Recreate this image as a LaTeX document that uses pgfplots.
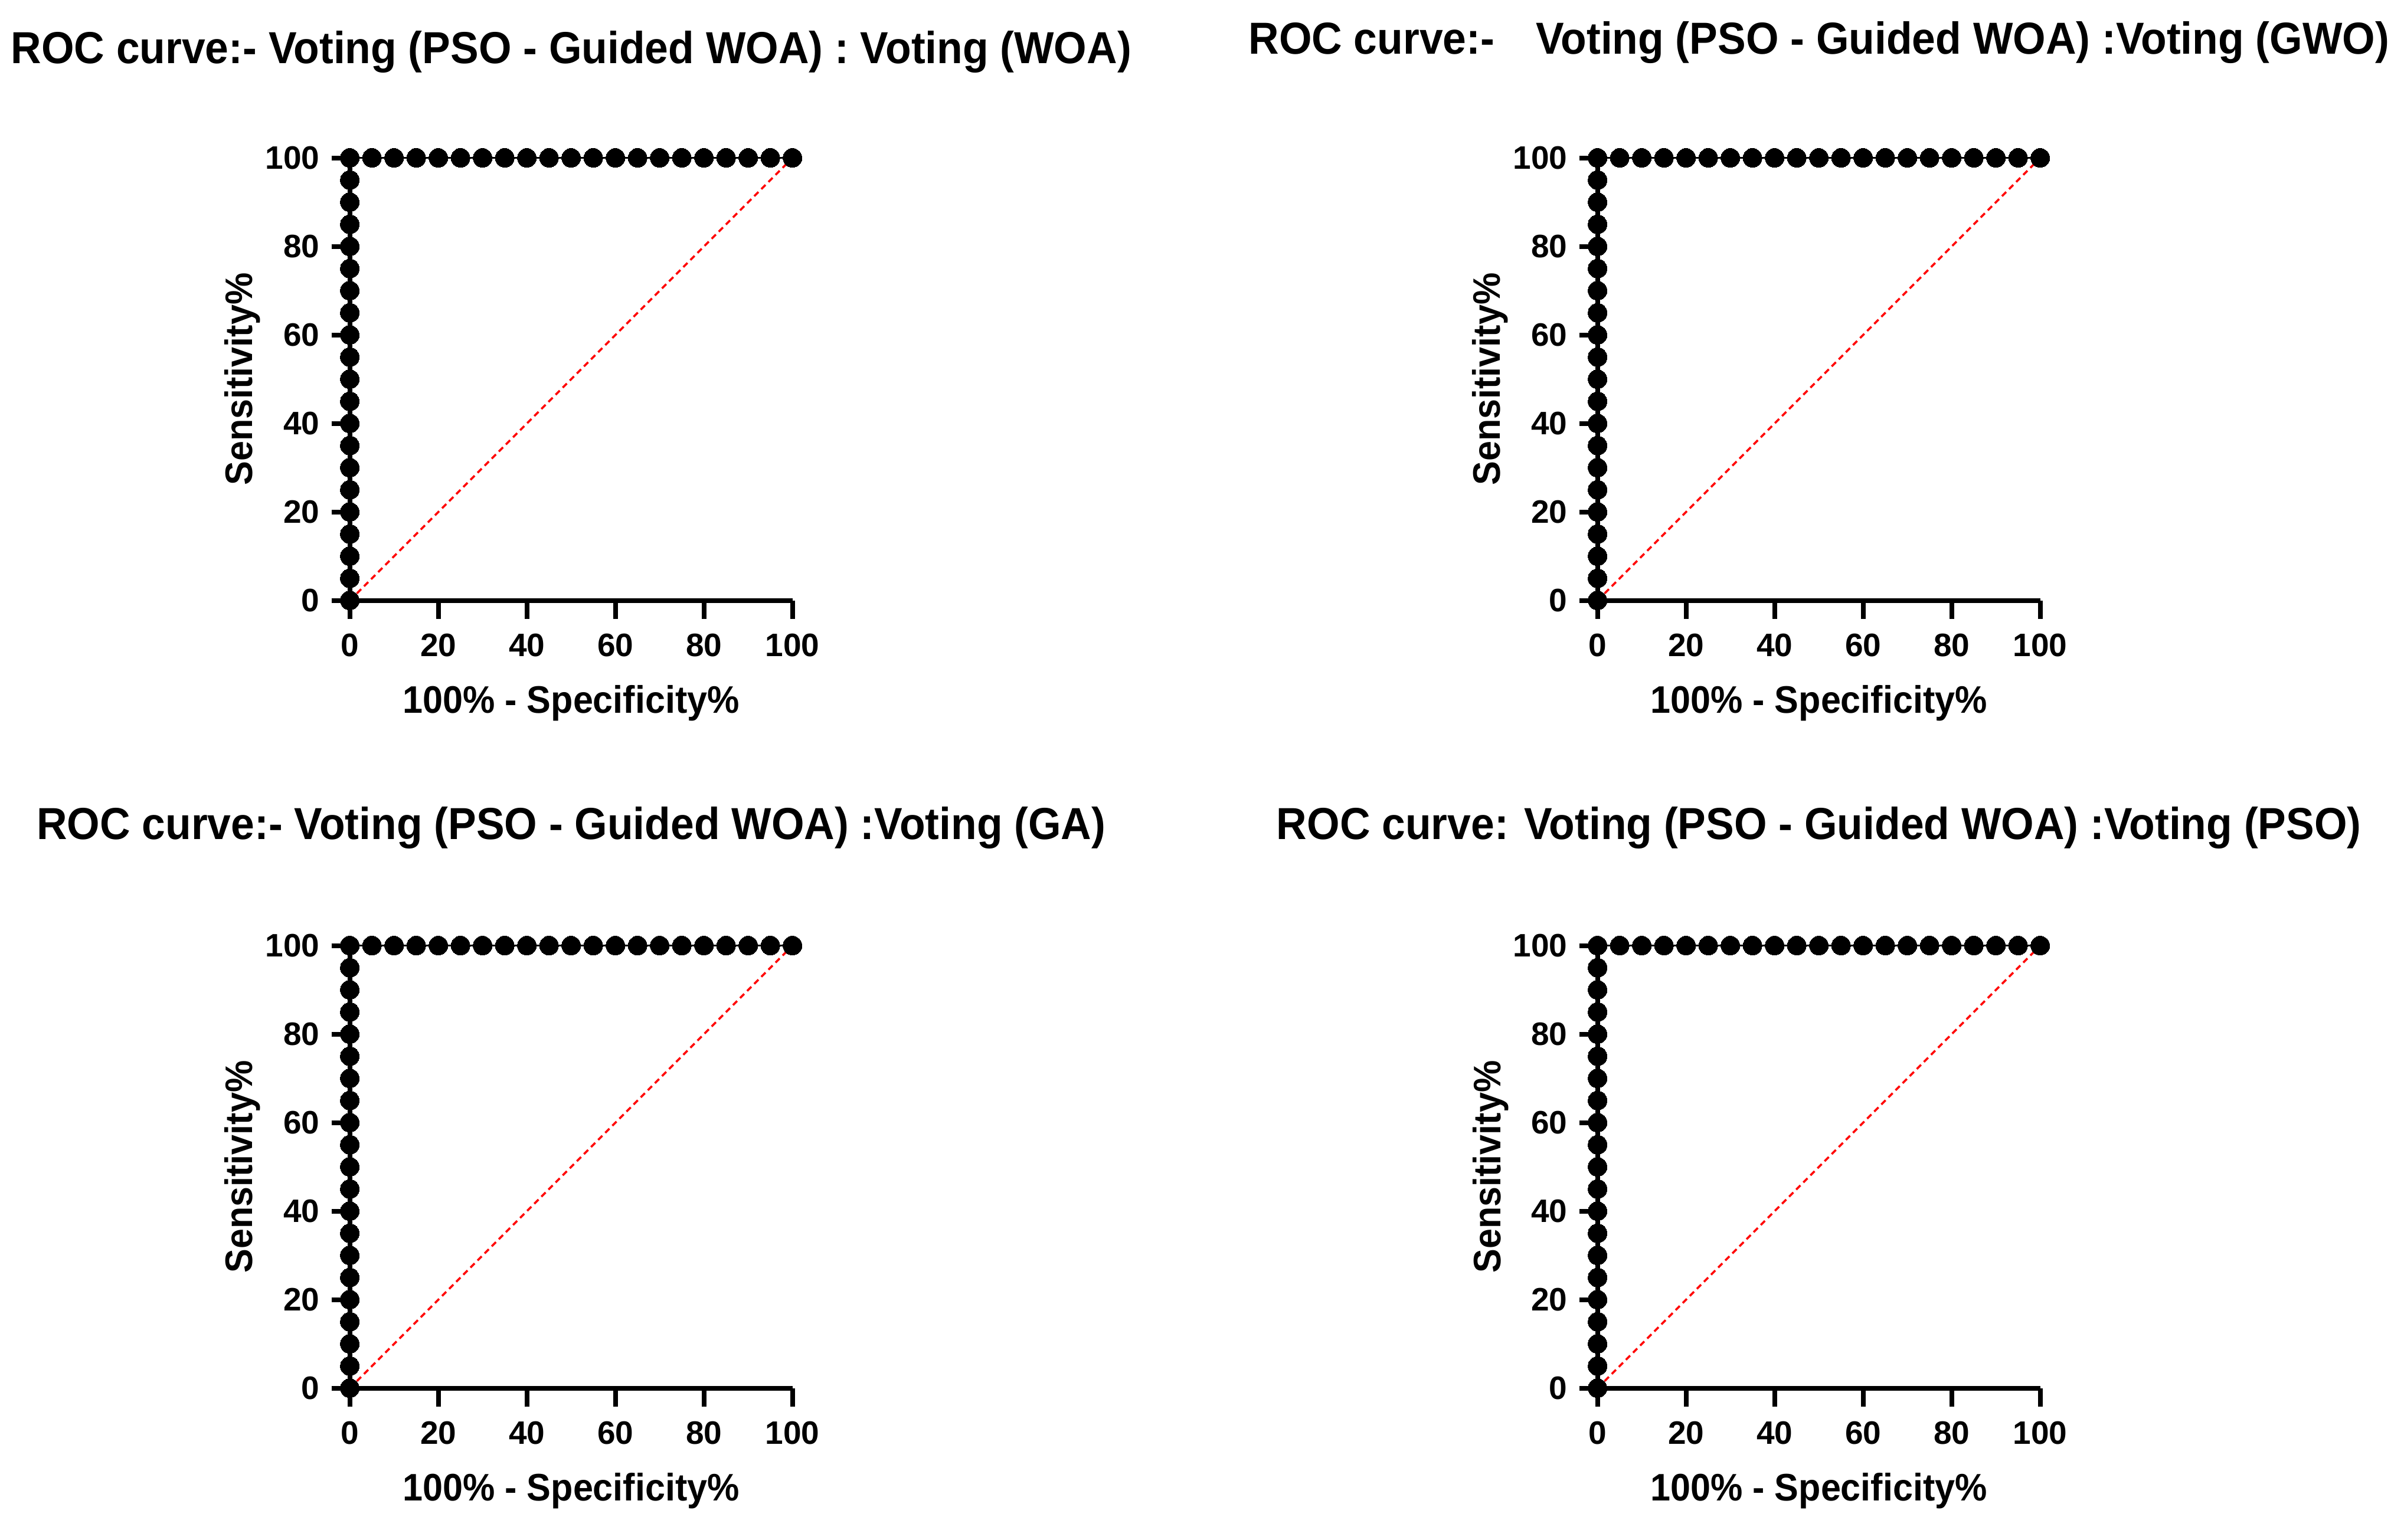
\documentclass[border=0pt]{standalone}
\usepackage{pgfplots}
\pgfplotsset{compat=1.18}
\usepackage{pgfplotstable}
\usepackage{fontspec}
\setmainfont{Liberation Sans}
\newfontfamily\titlefont[FakeStretch=0.94]{Liberation Sans}

\pgfplotstableread[row sep=\\]{
x y\\ 0 0\\ 0 5\\ 0 10\\ 0 15\\ 0 20\\ 0 25\\ 0 30\\ 0 35\\ 0 40\\ 0 45\\ 0 50\\ 0 55\\ 0 60\\ 0 65\\ 0 70\\ 0 75\\ 0 80\\ 0 85\\ 0 90\\ 0 95\\ 0 100\\
5 100\\ 10 100\\ 15 100\\ 20 100\\ 25 100\\ 30 100\\ 35 100\\ 40 100\\ 45 100\\ 50 100\\ 55 100\\ 60 100\\ 65 100\\ 70 100\\ 75 100\\ 80 100\\ 85 100\\ 90 100\\ 95 100\\ 100 100\\
}\rocWOA
\pgfplotstableread[row sep=\\]{
x y\\ 0 0\\ 0 5\\ 0 10\\ 0 15\\ 0 20\\ 0 25\\ 0 30\\ 0 35\\ 0 40\\ 0 45\\ 0 50\\ 0 55\\ 0 60\\ 0 65\\ 0 70\\ 0 75\\ 0 80\\ 0 85\\ 0 90\\ 0 95\\ 0 100\\
5 100\\ 10 100\\ 15 100\\ 20 100\\ 25 100\\ 30 100\\ 35 100\\ 40 100\\ 45 100\\ 50 100\\ 55 100\\ 60 100\\ 65 100\\ 70 100\\ 75 100\\ 80 100\\ 85 100\\ 90 100\\ 95 100\\ 100 100\\
}\rocGWO
\pgfplotstableread[row sep=\\]{
x y\\ 0 0\\ 0 5\\ 0 10\\ 0 15\\ 0 20\\ 0 25\\ 0 30\\ 0 35\\ 0 40\\ 0 45\\ 0 50\\ 0 55\\ 0 60\\ 0 65\\ 0 70\\ 0 75\\ 0 80\\ 0 85\\ 0 90\\ 0 95\\ 0 100\\
5 100\\ 10 100\\ 15 100\\ 20 100\\ 25 100\\ 30 100\\ 35 100\\ 40 100\\ 45 100\\ 50 100\\ 55 100\\ 60 100\\ 65 100\\ 70 100\\ 75 100\\ 80 100\\ 85 100\\ 90 100\\ 95 100\\ 100 100\\
}\rocGA
\pgfplotstableread[row sep=\\]{
x y\\ 0 0\\ 0 5\\ 0 10\\ 0 15\\ 0 20\\ 0 25\\ 0 30\\ 0 35\\ 0 40\\ 0 45\\ 0 50\\ 0 55\\ 0 60\\ 0 65\\ 0 70\\ 0 75\\ 0 80\\ 0 85\\ 0 90\\ 0 95\\ 0 100\\
5 100\\ 10 100\\ 15 100\\ 20 100\\ 25 100\\ 30 100\\ 35 100\\ 40 100\\ 45 100\\ 50 100\\ 55 100\\ 60 100\\ 65 100\\ 70 100\\ 75 100\\ 80 100\\ 85 100\\ 90 100\\ 95 100\\ 100 100\\
}\rocPSO

\pgfplotsset{
  rocaxis/.style={
    width=75pt, height=75pt, scale only axis,
    anchor=south west,
    xmin=0, xmax=100, ymin=0, ymax=100,
    axis x line=bottom, axis y line=left,
    axis line style={-, line width=0.8pt, black},
    tick align=outside,
    major tick length=3.1pt,
    every tick/.style={line width=0.8pt, black},
    xtick={0,20,40,60,80,100},
    ytick={0,20,40,60,80,100},
    /pgf/number format/assume math mode=true,
    ticklabel style={font=\bfseries\fontsize{5.5}{6}\selectfont, black},
    yticklabel style={xshift=1.5pt},
    xticklabel style={yshift=1pt},
    xlabel={100\% - Specificity\%},
    ylabel={Sensitivity\%},
    label style={font=\titlefont\bfseries\fontsize{6.5}{7}\selectfont, black},
    xlabel style={at={(axis description cs:0.5,-0.254)}, anchor=base},
    ylabel style={at={(axis description cs:-0.2196,0.5)}, anchor=base},
    every axis title shift=0pt,
    title style={font=\titlefont\bfseries\fontsize{7.6}{9}\selectfont, black, anchor=base},
    clip=false,
  },
  diag/.style={red, line width=0.35pt, dash pattern=on 1pt off 0.7pt, no marks},
  rocline/.style={black, line width=0.25pt, mark=*, mark size=1.6pt, mark options={solid, fill=black, draw=black, line width=0pt}},
}

\begin{document}
\begin{tikzpicture}[x=1pt,y=1pt]
\useasboundingbox (0,0) rectangle (405.1,260.9);

\begin{axis}[rocaxis, at={(59.27pt,159.14pt)},
  title={ROC curve:- Voting (PSO - Guided WOA) : Voting (WOA)},
  title style={at={(axis description cs:0.5,1.2139)}}]
  \addplot[diag] coordinates {(0,0) (100,100)};
  \addplot[rocline] table[x=x,y=y] {\rocWOA};
\end{axis}

\begin{axis}[rocaxis, at={(270.67pt,159.14pt)},
  title={ROC curve:-\hspace{7pt}Voting (PSO - Guided WOA) :Voting (GWO)},
  title style={at={(axis description cs:0.5,1.2347)}}]
  \addplot[diag] coordinates {(0,0) (100,100)};
  \addplot[rocline] table[x=x,y=y] {\rocGWO};
\end{axis}

\begin{axis}[rocaxis, at={(59.27pt,25.64pt)},
  title={ROC curve:- Voting (PSO - Guided WOA) :Voting (GA)},
  title style={at={(axis description cs:0.5,1.2405)}}]
  \addplot[diag] coordinates {(0,0) (100,100)};
  \addplot[rocline] table[x=x,y=y] {\rocGA};
\end{axis}

\begin{axis}[rocaxis, at={(270.67pt,25.64pt)},
  title={ROC curve: Voting (PSO - Guided WOA) :Voting (PSO)},
  title style={at={(axis description cs:0.5,1.2405)}}]
  \addplot[diag] coordinates {(0,0) (100,100)};
  \addplot[rocline] table[x=x,y=y] {\rocPSO};
\end{axis}
\end{tikzpicture}
\end{document}
